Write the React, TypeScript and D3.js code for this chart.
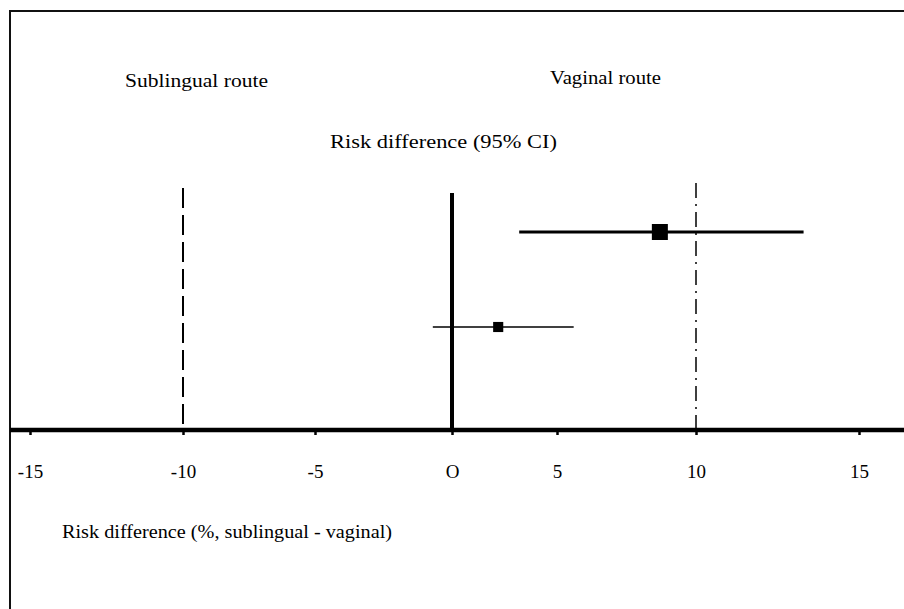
import React, { useEffect, useRef } from 'react';
import * as d3 from 'd3';

// Forest-style plot: risk difference, sublingual vs vaginal route
const TICK_VALUES = [-15, -10, -5, 0, 5, 10, 15];
const TICK_LABELS = ['-15', '-10', '-5', 'O', '5', '10', '15'];
// the original axis is hand-spaced, so the scale is piecewise linear over the ticks
const TICK_PX = [30, 183, 315, 452, 557, 696, 859];

const ROWS = ['1', '2'];
const ESTIMATE = [8.7, 2.2];
const CI_LOW = [3.2, -0.7];
const CI_HIGH = [13.3, 5.6];
const WEIGHT = [2.5, 1];

const W = 904;
const H = 609;
const AXIS_Y = 430;
const FONT = '"Liberation Serif", "Times New Roman", serif';

export default function App() {
  const ref = useRef<SVGSVGElement | null>(null);

  useEffect(() => {
    const svgEl = ref.current;
    if (!svgEl) return;
    const svg = d3.select(svgEl);
    svg.selectAll('*').remove();

    const x = d3.scaleLinear().domain(TICK_VALUES).range(TICK_PX);
    const y = d3.scalePoint<string>().domain(ROWS).range([232, 327]);
    const size = d3.scaleSqrt().domain([0, d3.max(WEIGHT) as number]).range([0, 16]);

    // frame (right/bottom edges fall outside the picture)
    svg.append('rect').attr('x', 10).attr('y', 11).attr('width', W + 40).attr('height', H + 40)
      .attr('fill', 'none').attr('stroke', '#111').attr('stroke-width', 2);

    // titles (original text is a little stretched horizontally)
    const txt = (tx: number, ty: number, s: string, len: number) => svg.append('text')
      .attr('x', tx).attr('y', ty).attr('font-family', FONT).attr('font-size', 18.5).attr('fill', '#000')
      .attr('textLength', len).attr('lengthAdjust', 'spacingAndGlyphs').text(s);
    txt(125, 87, 'Sublingual route', 143);
    txt(550, 84, 'Vaginal route', 111);
    txt(330, 148, 'Risk difference (95% CI)', 227);
    txt(62, 538, 'Risk difference (%, sublingual - vaginal)', 330);

    // reference lines
    svg.append('line').attr('x1', x(-10)).attr('x2', x(-10)).attr('y1', 188).attr('y2', AXIS_Y)
      .attr('stroke', '#000').attr('stroke-width', 2).attr('stroke-dasharray', '20,7');
    svg.append('line').attr('x1', x(10)).attr('x2', x(10)).attr('y1', 183).attr('y2', AXIS_Y)
      .attr('stroke', '#000').attr('stroke-width', 1.5).attr('stroke-dasharray', '15,6,2,6');
    svg.append('line').attr('x1', x(0)).attr('x2', x(0)).attr('y1', 193).attr('y2', AXIS_Y)
      .attr('stroke', '#000').attr('stroke-width', 4);

    // confidence intervals and estimates
    ROWS.forEach((r, i) => {
      const cy = y(r) as number;
      svg.append('line').attr('x1', x(CI_LOW[i])).attr('x2', x(CI_HIGH[i])).attr('y1', cy).attr('y2', cy)
        .attr('stroke', '#000').attr('stroke-width', i === 0 ? 3 : 1.6);
      const s = size(WEIGHT[i]);
      svg.append('rect').attr('x', x(ESTIMATE[i]) - s / 2).attr('y', cy - s / 2)
        .attr('width', s).attr('height', s).attr('fill', '#000');
    });

    // axis
    svg.append('line').attr('x1', 10).attr('x2', W).attr('y1', AXIS_Y).attr('y2', AXIS_Y)
      .attr('stroke', '#000').attr('stroke-width', 4.5);
    const axis = d3.axisBottom(x).tickValues(TICK_VALUES).tickSize(5).tickPadding(30)
      .tickFormat((d, i) => TICK_LABELS[i]);
    const ga = svg.append('g').attr('transform', `translate(0,${AXIS_Y})`).call(axis);
    ga.select('.domain').remove();
    ga.selectAll('line').attr('stroke', '#000').attr('stroke-width', 2.5);
    ga.selectAll('text').attr('font-family', FONT).attr('font-size', 19).attr('fill', '#000');
  }, []);

  return (
    <svg ref={ref} width={W} height={H}
      style={{ position: 'absolute', left: 0, top: 0, background: '#fff' }} />
  );
}
